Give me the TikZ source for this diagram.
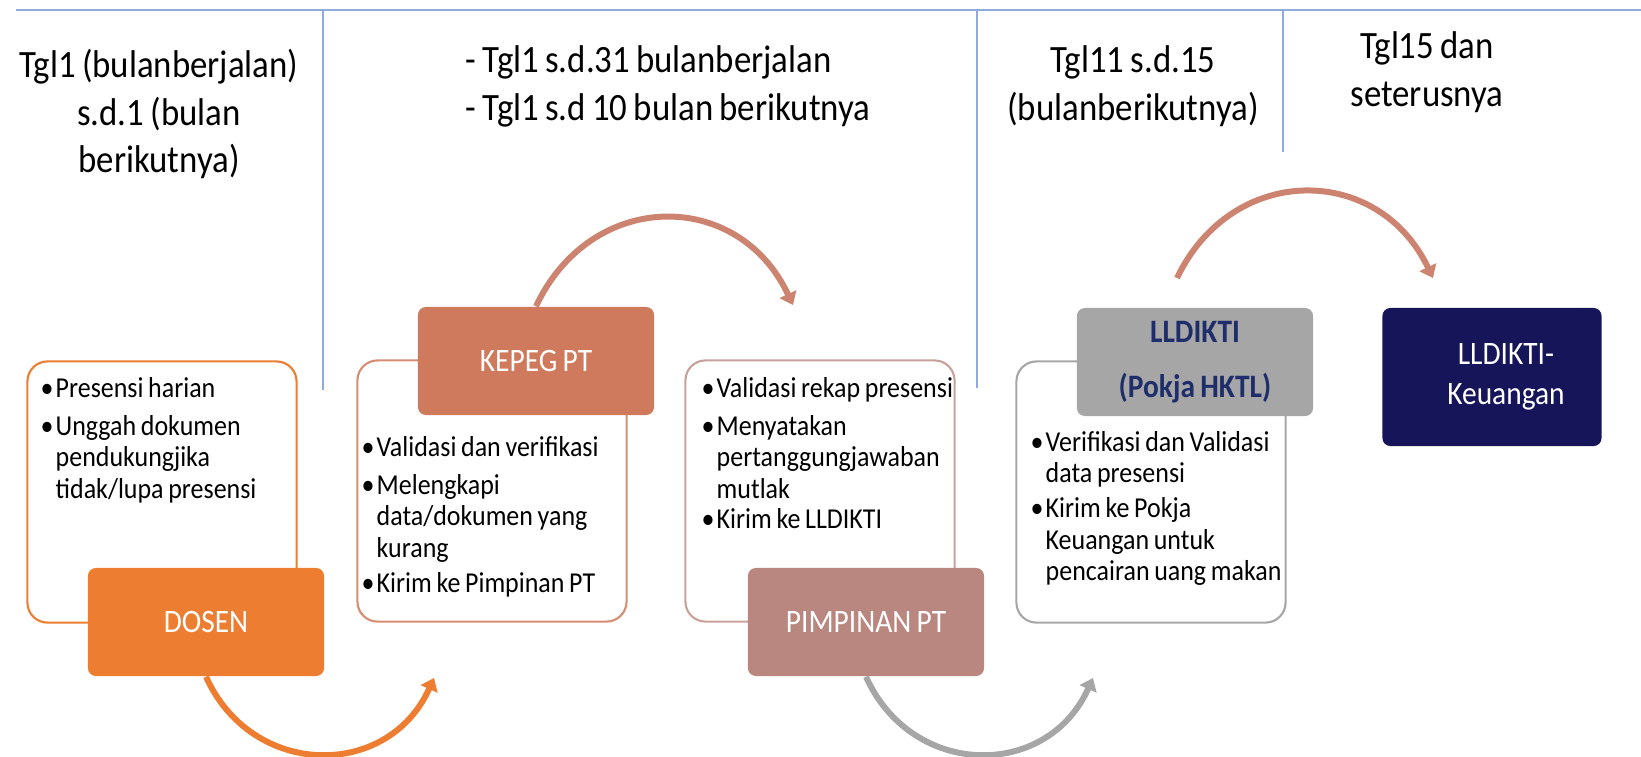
\documentclass[tikz,border=0pt]{standalone}
\usepackage{fontspec}
\setmainfont[FakeStretch=0.9, WordSpace=0.8]{Carlito}
\usetikzlibrary{arrows.meta,calc}

\definecolor{dosenorange}{HTML}{ED7D31}
\definecolor{kepegbrown}{HTML}{CF7A5C}
\definecolor{kepegline}{HTML}{D68D73}
\definecolor{pimpinanrose}{HTML}{B9877F}
\definecolor{pimpinanline}{HTML}{C8A19B}
\definecolor{lldiktigray}{HTML}{A6A6A6}
\definecolor{lldiktitext}{HTML}{1F2E6B}
\definecolor{keunavy}{HTML}{16155A}
\definecolor{arcsalmon}{HTML}{CC8370}
\definecolor{sepblue}{HTML}{8FAADC}

\newcommand{\bitem}[1]{\par\noindent\makebox[0.15cm][l]{\textbullet}\parbox[t]{2.6cm}{\spaceskip=0pt\xspaceskip=0pt #1}}

\begin{document}
\begin{tikzpicture}[x=0.01cm, y=-0.01cm,
    sepline/.style={sepblue, line width=0.35pt},
    listbox/.style={draw, rounded corners=0.2cm, line width=0.6pt, minimum width=2.69cm, minimum height=2.61cm, inner sep=0pt},
    listtext/.style={anchor=north west, inner sep=0pt, text width=2.8cm, font=\fontsize{8.2}{8.9}\selectfont\setlength{\parskip}{1.9pt}},
    actor/.style={rounded corners=0.08cm, minimum width=2.36cm, minimum height=1.08cm, inner sep=0pt, text=white, align=center, font=\fontsize{9.3}{10}\selectfont},
    heading/.style={inner sep=0pt, font=\fontsize{11}{13.6}\selectfont},
    flow/.style={line width=1.7pt, -{Triangle[length=1.2mm,width=1.8mm]}}]
    \useasboundingbox (0,0) rectangle (1641,757);

    % Time columns
    \draw[sepblue, line width=0.7pt] (16,10) -- (1641,10);
    \foreach \x/\y in {323/390, 977/388, 1283/152} \draw[sepline] (\x,10) -- (\x,\y);

    \node[heading, align=center] (head1) at (159,114) {Tgl1 (bulanberjalan)\\ s.d.1 (bulan\\ berikutnya)};
    \node[heading, align=left, anchor=west] (head2) at (465,86) {- Tgl1 s.d.31 bulanberjalan\\ - Tgl1 s.d 10 bulan berikutnya};
    \node[heading, align=center] (head3) at (1133,86) {Tgl11 s.d.15\\ (bulanberikutnya)};
    \node[heading, align=center] (head4) at (1427,72) {Tgl15 dan\\ seterusnya};

    % Task lists
    \node[listbox, draw=dosenorange] (dosenlist) at (162,492) {};
    \node[listbox, draw=kepegline] (kepeglist) at (492,491) {};
    \node[listbox, draw=pimpinanline] (pimpinanlist) at (820,491) {};
    \node[listbox, draw=lldiktigray] (lldiktilist) at (1151,492) {};

    \node[listtext] (dosentext) at (40,359) {\bitem{Presensi harian}\bitem{Unggah dokumen\\ pendukungjika\\ tidak/lupa presensi}};
    \node[listtext] (kepegtext) at (361,418) {\bitem{Validasi dan verifikasi}\bitem{Melengkapi\\ data/dokumen yang\\ kurang}\bitem{Kirim ke Pimpinan PT}};
    \node[listtext] (pimpinantext) at (701,359) {\bitem{Validasi rekap presensi}\bitem{Menyatakan\\ pertanggungjawaban\\ mutlak}\bitem{Kirim ke LLDIKTI}};
    \node[listtext] (lldiktitext) at (1030,413) {\bitem{Verifikasi dan Validasi\\ data presensi}\bitem{Kirim ke Pokja\\ Keuangan untuk\\ pencairan uang makan}};

    % Actors
    \node[actor, fill=dosenorange] (dosen) at (206,622) {DOSEN};
    \node[actor, fill=kepegbrown] (kepeg) at (536,361) {KEPEG PT};
    \node[actor, fill=pimpinanrose] (pimpinan) at (866,622) {PIMPINAN PT};
    \node[actor, fill=lldiktigray, text=lldiktitext, font=\bfseries\fontsize{9.3}{15.6}\selectfont] (lldikti) at (1195,362) {LLDIKTI\\ (Pokja HKTL)};
    \node[actor, fill=keunavy, minimum width=2.19cm, minimum height=1.38cm, font=\fontsize{9.3}{11.4}\selectfont] (keuangan) at (1492,377) {\hspace*{0.28cm}LLDIKTI-\\ \hspace*{0.28cm}Keuangan};

    % Flow arrows
    \coordinate (dosenend) at (434,678);
    \coordinate (kepegend) at (793,305);
    \coordinate (pimpinanend) at (1093,678);
    \coordinate (lldiktistart) at (1177,278);
    \coordinate (lldiktiend) at (1433,278);

    \draw[flow, dosenorange] (dosen.south) .. controls +(46,102) and +(-46,102) .. (dosenend);
    \draw[flow, arcsalmon] (kepeg.north) .. controls +(55,-117) and +(-55,-117) .. (kepegend);
    \draw[flow, lldiktigray] (pimpinan.south) .. controls +(46,102) and +(-46,102) .. (pimpinanend);
    \draw[flow, arcsalmon] (lldiktistart) .. controls +(55,-115) and +(-55,-115) .. (lldiktiend);
\end{tikzpicture}
\end{document}
